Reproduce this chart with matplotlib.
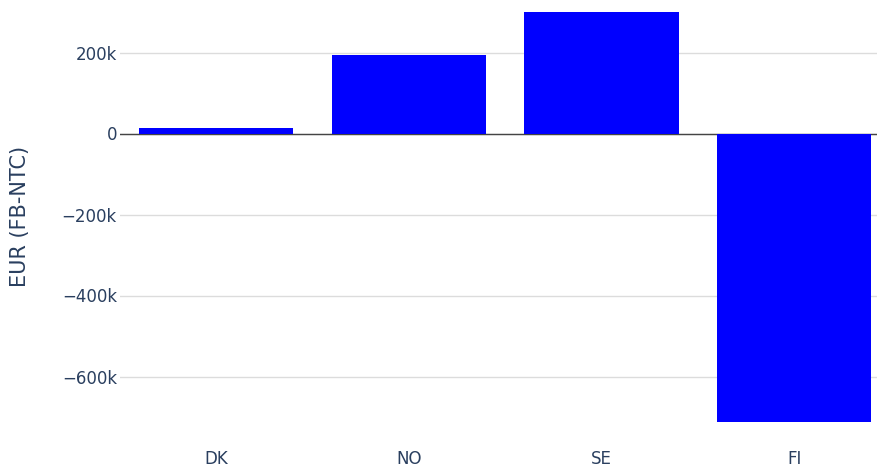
import matplotlib
matplotlib.use("Agg")
import matplotlib.pyplot as plt

categories = ["DK", "NO", "SE", "FI"]
values = [14000, 195000, 301000, -713000]
ytick_vals = [-600000, -400000, -200000, 0, 200000]
ytick_labels = ["\u2212600k", "\u2212400k", "\u2212200k", "0", "200k"]

W, H = 878, 471
fig = plt.figure(figsize=(W / 100, H / 100), dpi=100)
left_px, right_px = 119.7, 890.6
top_px, bottom_px = -9.0, 443.0
ax = fig.add_axes([left_px / W, (H - bottom_px) / H,
                   (right_px - left_px) / W, (bottom_px - top_px) / H])

txt = "#2a3f5f"
x = list(range(len(categories)))
ax.bar(x, values, width=0.8, color="#0000ff", zorder=3)
ax.set_xlim(-0.5, len(categories) - 0.5)
ppk = 81.0 / 200000.0
ax.set_ylim(-(bottom_px - 133.5) / ppk, (133.5 - top_px) / ppk)

ax.set_yticks(ytick_vals)
ax.set_yticklabels(ytick_labels)
ax.set_xticks(x)
ax.set_xticklabels(categories)
ax.tick_params(axis="both", length=0, labelsize=12, colors=txt)
ax.tick_params(axis="x", pad=5)
ax.tick_params(axis="y", pad=2)
for t in ax.get_yticklabels() + ax.get_xticklabels():
    t.set_color(txt)

ax.grid(axis="y", color="#dcdcdc", linewidth=1.0, zorder=0)
ax.grid(axis="x", visible=False)
ax.axhline(0, color="#444444", linewidth=1.0, zorder=2)
for s in ax.spines.values():
    s.set_visible(False)
ax.set_facecolor("white")

fig.text(20 / W, 1 - 216 / H, "EUR (FB-NTC)", rotation=90, ha="center", va="center",
         fontsize=15, color=txt)

fig.savefig("out.png", dpi=100, facecolor="white")
